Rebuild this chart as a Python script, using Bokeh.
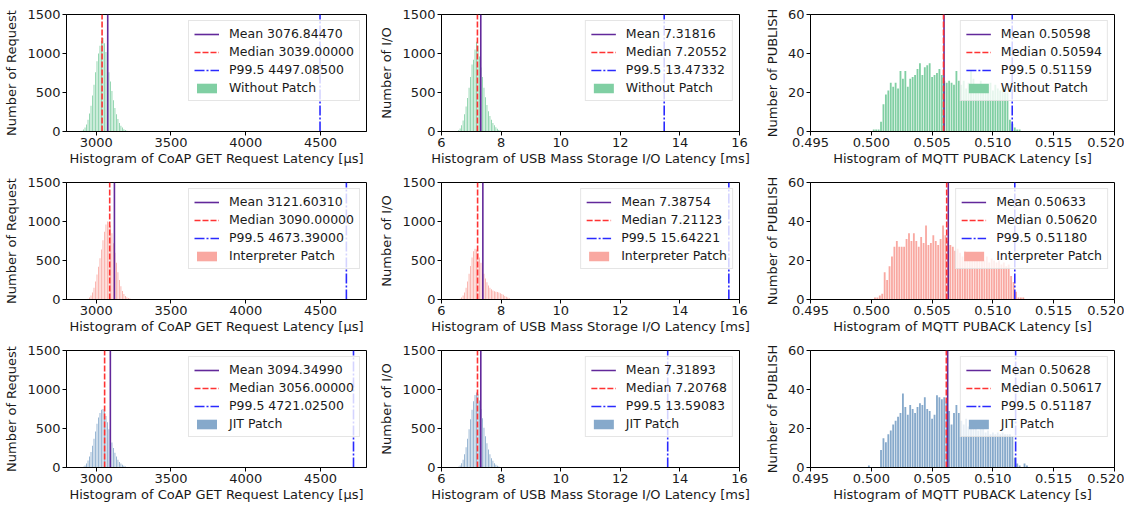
from bokeh.plotting import figure
from bokeh.layouts import row, column
from bokeh.models import (FixedTicker, PrintfTickFormatter, Range1d, Legend,
                          LegendItem)
from bokeh.embed import file_html
from bokeh.resources import INLINE

FONT = "DejaVu Sans"

# ---------------- data ----------------
series_names = ["Without Patch", "Interpreter Patch", "JIT Patch"]
series_colors = ["#80cfa3", "#f9a8a1", "#86a9cb"]

# CoAP GET request latency [µs], bin width 10
coap_bin = 10
coap_start = [2900, 2940, 2910]
coap_without = [10, 25, 50, 90, 150, 230, 330, 460, 600, 760, 900, 1000, 1100, 1160,
                1200, 1130, 1020, 900, 760, 640, 520, 400, 300, 220, 160, 110, 75,
                50, 30, 20, 10, 5]
coap_interp = [10, 25, 50, 90, 150, 230, 320, 420, 530, 640, 760, 870, 960, 1000,
               990, 950, 850, 720, 600, 470, 350, 250, 170, 110, 70, 45, 30, 20, 12,
               8, 5, 3]
coap_jit = [10, 25, 50, 90, 140, 200, 280, 370, 460, 560, 640, 700, 740, 750, 720,
            660, 580, 490, 400, 320, 250, 190, 140, 100, 70, 50, 35, 22, 14, 8, 5]
coap_mean = [3076.84470, 3121.60310, 3094.34990]
coap_median = [3039.00000, 3090.00000, 3056.00000]
coap_p995 = [4497.08500, 4673.39000, 4721.02500]

# USB mass storage I/O latency [ms], bin width 0.05
usb_bin = 0.05
usb_start = [6.55, 6.60, 6.55]
usb_without = [15, 40, 80, 140, 220, 320, 430, 560, 700, 860, 920, 1050, 1150, 1100,
               960, 820, 700, 560, 440, 340, 260, 200, 150, 110, 80, 55, 35, 20, 12, 6]
usb_interp = [10, 25, 50, 90, 150, 230, 330, 430, 540, 620, 650, 640, 600, 540, 470,
              400, 330, 270, 220, 180, 150, 130, 115, 105, 100, 95, 90, 80, 70, 60,
              45, 35, 25, 15, 8]
usb_jit = [10, 25, 55, 100, 170, 260, 370, 490, 620, 740, 850, 930, 960, 940, 860,
           750, 630, 510, 400, 310, 230, 170, 120, 85, 55, 35, 22, 12, 6]
usb_mean = [7.31816, 7.38754, 7.31893]
usb_median = [7.20552, 7.21123, 7.20768]
usb_p995 = [13.47332, 15.64221, 13.59083]

# MQTT PUBACK latency [s], bin width 0.0002
mqtt_bin = 0.0002
mqtt_start = [0.5001, 0.5002, 0.4997]
mqtt_without = [1, 1, 1, 5, 14, 19, 21, 25, 23, 25, 22, 31, 27, 31, 23, 27, 28, 29, 32,
                35, 29, 33, 34, 35, 28, 29, 30, 32, 29, 26, 25, 26, 25, 24, 31, 26, 24,
                26, 22, 25, 31, 27, 23, 24, 26, 22, 24, 23, 25, 21, 24, 22, 21, 22, 20,
                20, 6, 4, 2, 1, 1]
mqtt_interp = [1, 1, 2, 3, 14, 10, 17, 22, 27, 30, 27, 27, 27, 31, 34, 30, 34, 30, 27,
               32, 29, 38, 28, 29, 33, 30, 28, 31, 38, 33, 30, 28, 27, 25, 26, 24, 22,
               25, 23, 21, 24, 22, 20, 23, 21, 20, 22, 19, 21, 20, 19, 20, 18, 19, 17,
               18, 12, 9, 4, 1, 1, 1]
mqtt_jit = [1, 0, 0, 0, 0, 9, 15, 13, 17, 19, 22, 24, 26, 28, 38, 31, 27, 32, 30, 28,
            31, 33, 32, 36, 30, 29, 25, 27, 37, 36, 35, 36, 34, 29, 22, 28, 32, 28, 24,
            22, 25, 21, 23, 20, 22, 19, 21, 20, 18, 19, 17, 18, 17, 18, 17, 18, 17, 17,
            17, 16, 5, 2, 1, 0, 2, 1]
mqtt_mean = [0.50598, 0.50633, 0.50628]
mqtt_median = [0.50594, 0.50620, 0.50617]
mqtt_p995 = [0.51159, 0.51180, 0.51187]

x_labels = ["Histogram of CoAP GET Request Latency [\u00b5s]",
            "Histogram of USB Mass Storage I/O Latency [ms]",
            "Histogram of MQTT PUBACK Latency [s]"]
y_labels = ["Number of Request", "Number of I/O", "Number of PUBLISH"]
x_ticks = [[3000, 3500, 4000, 4500],
           [6, 8, 10, 12, 14, 16],
           [0.495, 0.500, 0.505, 0.510, 0.515, 0.520]]
y_ticks = [[0, 500, 1000, 1500], [0, 500, 1000, 1500], [0, 20, 40, 60]]
x_limits = [(2801, 4808), (6, 16), (0.495, 0.520)]
y_limits = [(0, 1500), (0, 1500), (0, 60)]

col_data = [
    dict(bin=coap_bin, start=coap_start, counts=[coap_without, coap_interp, coap_jit],
         mean=coap_mean, median=coap_median, p995=coap_p995, bw=0.55),
    dict(bin=usb_bin, start=usb_start, counts=[usb_without, usb_interp, usb_jit],
         mean=usb_mean, median=usb_median, p995=usb_p995, bw=0.55),
    dict(bin=mqtt_bin, start=mqtt_start, counts=[mqtt_without, mqtt_interp, mqtt_jit],
         mean=mqtt_mean, median=mqtt_median, p995=mqtt_p995, bw=0.75),
]

# ---------------- layout (page has no body margin) ----------------
col_borders = [(66, 10, 300), (63, 18, 300), (53, 10, 304)]   # left, right, frame w
row_borders = [(14, 40, 117), (11, 40, 117), (11, 37, 117)]   # top, bottom, frame h

MEAN_C = "#62289a"
MEDIAN_C = "#ff3333"
P_C = "#2a2aff"
FS = "13px"
LFS = "12.5px"


def make_panel(r, c):
    L, R, fw = col_borders[c]
    T, B, fh = row_borders[r]
    d = col_data[c]
    p = figure(width=L + fw + R, height=T + fh + B, output_backend="svg",
               toolbar_location=None,
               x_range=Range1d(*x_limits[c]), y_range=Range1d(*y_limits[c]))
    p.min_border_left = L
    p.min_border_right = R
    p.min_border_top = T
    p.min_border_bottom = B
    p.outline_line_color = "black"
    p.outline_line_width = 1
    p.xgrid.visible = False
    p.ygrid.visible = False
    p.background_fill_color = "white"
    p.border_fill_color = "white"

    counts = d["counts"][r]
    centers = [d["start"][r] + d["bin"] * (i + 0.5) for i in range(len(counts))]
    bars = p.vbar(x=centers, top=counts, bottom=0, width=d["bin"] * d["bw"],
                  fill_color=series_colors[r], line_color=None)

    ytop = y_limits[c][1]
    m = d["mean"][r]
    md = d["median"][r]
    pp = d["p995"][r]
    l_mean = p.line([m, m], [0, ytop], line_color=MEAN_C, line_width=1.6)
    l_med = p.line([md, md], [0, ytop], line_color=MEDIAN_C, line_width=1.6,
                   line_dash="6 2")
    l_p = p.line([pp, pp], [0, ytop], line_color=P_C, line_width=1.6,
                 line_dash="10 2 2 2")

    items = [
        LegendItem(label="Mean %.5f" % m, renderers=[l_mean]),
        LegendItem(label="Median %.5f" % md, renderers=[l_med]),
        LegendItem(label="P99.5 %.5f" % pp, renderers=[l_p]),
        LegendItem(label=series_names[r], renderers=[bars]),
    ]
    leg = Legend(items=items, location="top_right")
    leg.label_text_font = FONT
    leg.label_text_font_size = LFS
    leg.label_text_color = "#1a1a1a"
    leg.label_height = 15
    leg.glyph_height = 12
    leg.glyph_width = 25
    leg.label_standoff = 10
    leg.spacing = 3
    leg.padding = 5
    leg.margin = 6
    leg.border_line_color = "#cccccc"
    leg.border_line_width = 1
    leg.background_fill_color = "white"
    leg.background_fill_alpha = 0.8
    p.add_layout(leg)

    for ax in (p.xaxis[0], p.yaxis[0]):
        ax.major_label_text_font = FONT
        ax.major_label_text_font_size = FS
        ax.major_label_text_color = "#1a1a1a"
        ax.axis_label_text_font = FONT
        ax.axis_label_text_font_size = FS
        ax.axis_label_text_font_style = "normal"
        ax.axis_label_text_color = "#1a1a1a"
        ax.minor_tick_line_color = None
        ax.major_tick_in = 0
        ax.major_tick_out = 4
        ax.major_tick_line_color = "black"
        ax.axis_line_color = "black"
        ax.major_label_standoff = 2

    p.xaxis[0].ticker = FixedTicker(ticks=x_ticks[c])
    p.yaxis[0].ticker = FixedTicker(ticks=y_ticks[c])
    if c == 2:
        p.xaxis[0].formatter = PrintfTickFormatter(format="%.3f")
    p.xaxis[0].axis_label = x_labels[c]
    p.yaxis[0].axis_label = y_labels[c]
    p.xaxis[0].axis_label_standoff = 1
    p.yaxis[0].axis_label_standoff = 5
    return p


rows = []
for r in range(3):
    rows.append(row([make_panel(r, c) for c in range(3)], spacing=0))
layout = column(rows, spacing=0)

open("out.html", "w").write(file_html(layout, INLINE))
